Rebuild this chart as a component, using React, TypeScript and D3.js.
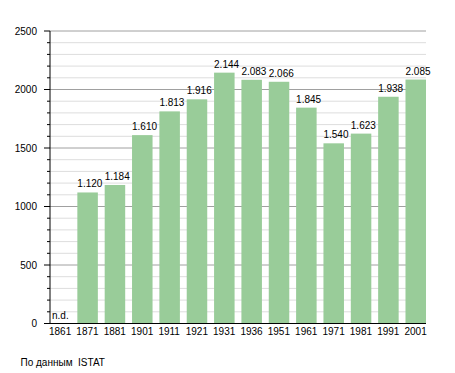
import React from "react";
import * as d3 from "d3";

const years = ["1861", "1871", "1881", "1901", "1911", "1921", "1931", "1936", "1951", "1961", "1971", "1981", "1991", "2001"];
const population: (number | null)[] = [null, 1120, 1184, 1610, 1813, 1916, 2144, 2083, 2066, 1845, 1540, 1623, 1938, 2085];
const majorTicks = [0, 500, 1000, 1500, 2000, 2500];
const minorTicks = d3.range(0, 2501, 100);

const width = 455;
const height = 373;
const left = 50;
const right = 426;
const top = 31;
const bottom = 323.5;

const fmt = (v: number) => d3.format(",")(v).replace(/,/g, ".");

const App = () => {
  const x = d3.scaleBand<string>().domain(years).range([left, right]).paddingInner(0.25).paddingOuter(0);
  const y = d3.scaleLinear().domain([0, 2500]).range([bottom, top]);
  const font = "'Liberation Sans', Arial, sans-serif";

  return (
    <svg width={width} height={height} style={{ position: "absolute", left: 0, top: 0, fontFamily: font }}>
      <rect width={width} height={height} fill="#fff" />
      {/* grid */}
      {minorTicks.map((t) => (
        <line key={"g" + t} x1={left} x2={right} y1={y(t)} y2={y(t)}
          stroke={t % 500 === 0 ? "#a0a0a0" : "#dddddd"} strokeWidth={1} />
      ))}
      {/* bars */}
      {years.map((yr, i) => {
        const v = population[i];
        if (v == null) return null;
        return <rect key={yr} x={x(yr)} y={y(v)} width={x.bandwidth()} height={y(0) - y(v)} fill="#99cc99" />;
      })}
      {/* value labels */}
      {years.map((yr, i) => {
        const v = population[i];
        return (
          <text key={"v" + yr} x={(x(yr) as number) + (v == null ? 2 : 0)} y={v == null ? bottom - 4.5 : y(v) - 5}
            fontSize={10} fill="#000">
            {v == null ? "n.d." : fmt(v)}
          </text>
        );
      })}
      {/* y ticks */}
      {minorTicks.map((t) => (
        <line key={"t" + t} x1={t % 500 === 0 ? left - 6 : left - 3} x2={left} y1={y(t)} y2={y(t)} stroke="#000" />
      ))}
      {majorTicks.map((t) => (
        <text key={"l" + t} x={37} y={y(t) + 3.8} fontSize={10} textAnchor="end" fill="#000">{t}</text>
      ))}
      {/* axes */}
      <line x1={left} x2={left} y1={top} y2={bottom} stroke="#000" />
      <line x1={left} x2={right} y1={bottom} y2={bottom} stroke="#000" />
      {years.map((yr) => (
        <text key={"x" + yr} x={(x(yr) as number) - 1} y={334.5} fontSize={10} fill="#000">{yr}</text>
      ))}
      <text x={20.5} y={366} fontSize={10} fill="#000" style={{ whiteSpace: "pre" }}>По данным  ISTAT</text>
    </svg>
  );
};

export default App;
